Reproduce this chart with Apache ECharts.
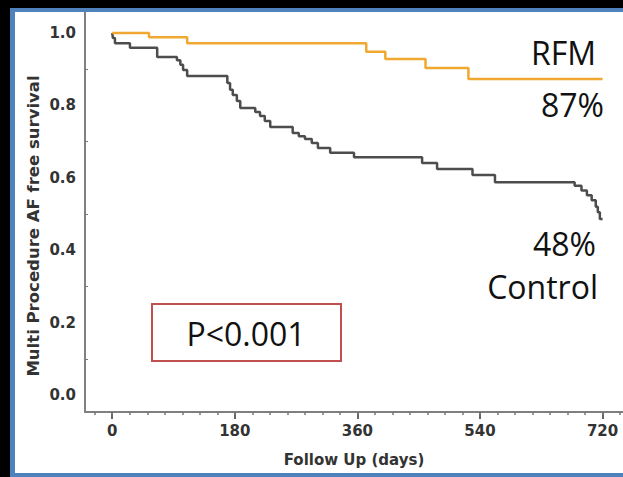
<!DOCTYPE html>
<html>
<head>
<meta charset="utf-8">
<title>AF free survival</title>
<script src="https://cdn.jsdelivr.net/npm/echarts@6/dist/echarts.min.js"></script>
<style>
  html, body { margin: 0; padding: 0; background: #000; overflow: hidden; }
  #frame {
    position: absolute; left: 10px; top: 8px; width: 640px; height: 461px;
    background: #fff; border: 4px solid #4f81bd; border-left-width: 5px; border-right: none;
  }
  #chart { position: absolute; left: 0; top: 0; width: 623px; height: 477px; }
</style>
</head>
<body>
<div id="frame"></div>
<div id="chart"></div>
<script>
// axis ticks
const xTicks = [0, 180, 360, 540, 720];
const yLabels = [0, 0.2, 0.4, 0.6, 0.8, 1.0];
const yMinorTicks = [0.1, 0.3, 0.5, 0.7, 0.9];

// Kaplan-Meier steps (days, survival)
const rfmDays = [0, 54, 110, 373, 401, 460, 523, 720];
const rfmSurv = [1.0, 0.988, 0.972, 0.948, 0.928, 0.903, 0.873, 0.873];

const ctrlDays = [0, 1, 4, 26, 66, 95, 100, 104, 110, 169, 173, 177, 183, 188, 210, 217, 224, 232,
  265, 274, 283, 293, 302, 320, 355, 455, 477, 529, 562, 679, 689, 697, 704, 710, 713, 716, 720];
const ctrlSurv = [1.0, 0.986, 0.972, 0.959, 0.934, 0.925, 0.912, 0.898, 0.881, 0.862, 0.843, 0.829, 0.812, 0.793, 0.782, 0.771, 0.757, 0.740,
  0.724, 0.715, 0.707, 0.696, 0.682, 0.669, 0.657, 0.641, 0.624, 0.608, 0.588, 0.578, 0.565, 0.552, 0.538, 0.520, 0.505, 0.486, 0.486];

const tickFont = "'DejaVu Sans', Verdana, sans-serif";
const noteFont = "'Open Sans', 'Noto Sans', sans-serif";

// minor ticks along the x axis, 7 per 180 days
const xMinor = [];
for (let i = -1; i <= 29; i++) xMinor.push(i * 180 / 7);

const zip = (a, b) => a.map((d, i) => [d, b[i]]);

const chart = echarts.init(document.getElementById("chart"), null, { renderer: "svg" });

const option = {
  animation: false,
  backgroundColor: "transparent",
  grid: { left: 85, right: 0, top: 12, bottom: 65 },
  xAxis: [
    {
      type: "value",
      min: -40,
      max: 750,
      axisLine: { onZero: false, lineStyle: { color: "#808080", width: 2 } },
      axisTick: { customValues: xTicks, length: 7, lineStyle: { color: "#666", width: 2 } },
      axisLabel: {
        customValues: xTicks, margin: 11,
        fontFamily: tickFont, fontWeight: "bold", fontSize: 15, color: "#333"
      },
      splitLine: { show: false },
      name: "Follow Up (days)",
      nameLocation: "middle",
      nameGap: 40,
      nameTextStyle: { fontFamily: tickFont, fontWeight: "bold", fontSize: 15, color: "#333" }
    },
    {
      type: "value",
      min: -40,
      max: 750,
      position: "bottom",
      axisLine: { show: false, onZero: false },
      axisTick: { customValues: xMinor, length: 3, lineStyle: { color: "#777", width: 1.5 } },
      axisLabel: { show: false },
      splitLine: { show: false }
    }
  ],
  yAxis: {
    type: "value",
    min: -0.047,
    max: 1.058,
    axisLine: { show: true, onZero: false, lineStyle: { color: "#808080", width: 2 } },
    axisTick: { show: true, customValues: yMinorTicks, inside: true, length: 3, lineStyle: { color: "#777" } },
    axisLabel: {
      customValues: yLabels, margin: 9,
      formatter: v => v.toFixed(1),
      fontFamily: tickFont, fontWeight: "bold", fontSize: 15, color: "#333"
    },
    splitLine: { show: false }
  },
  series: [
    {
      name: "Control",
      type: "line",
      step: "end",
      showSymbol: false,
      data: zip(ctrlDays, ctrlSurv),
      lineStyle: { color: "#4d4d4d", width: 2.5 }
    },
    {
      name: "RFM",
      type: "line",
      step: "end",
      showSymbol: false,
      data: zip(rfmDays, rfmSurv),
      lineStyle: { color: "#f0a830", width: 2.5 }
    }
  ],
  graphic: [
    {
      type: "text", x: 33, y: 226, rotation: Math.PI / 2,
      style: {
        text: "Multi Procedure AF free survival", align: "center", verticalAlign: "middle",
        font: "bold 16.5px " + tickFont, fill: "#333"
      }
    },
    {
      type: "rect", shape: { x: 152, y: 304, width: 189, height: 57 },
      style: { fill: "#fff", stroke: "#c0504d", lineWidth: 2 }
    },
    {
      type: "text", x: 246, y: 333,
      style: { text: "P<0.001", align: "center", verticalAlign: "middle", font: "32px " + noteFont, fill: "#111" }
    },
    {
      type: "text", x: 596, y: 52,
      style: { text: "RFM", align: "right", verticalAlign: "middle", font: "32px " + noteFont, fill: "#111" }
    },
    {
      type: "text", x: 604, y: 104,
      style: { text: "87%", align: "right", verticalAlign: "middle", font: "32px " + noteFont, fill: "#111" }
    },
    {
      type: "text", x: 596, y: 243,
      style: { text: "48%", align: "right", verticalAlign: "middle", font: "32px " + noteFont, fill: "#111" }
    },
    {
      type: "text", x: 598, y: 286,
      style: { text: "Control", align: "right", verticalAlign: "middle", font: "32px " + noteFont, fill: "#111" }
    }
  ]
};

chart.setOption(option);
</script>
</body>
</html>
